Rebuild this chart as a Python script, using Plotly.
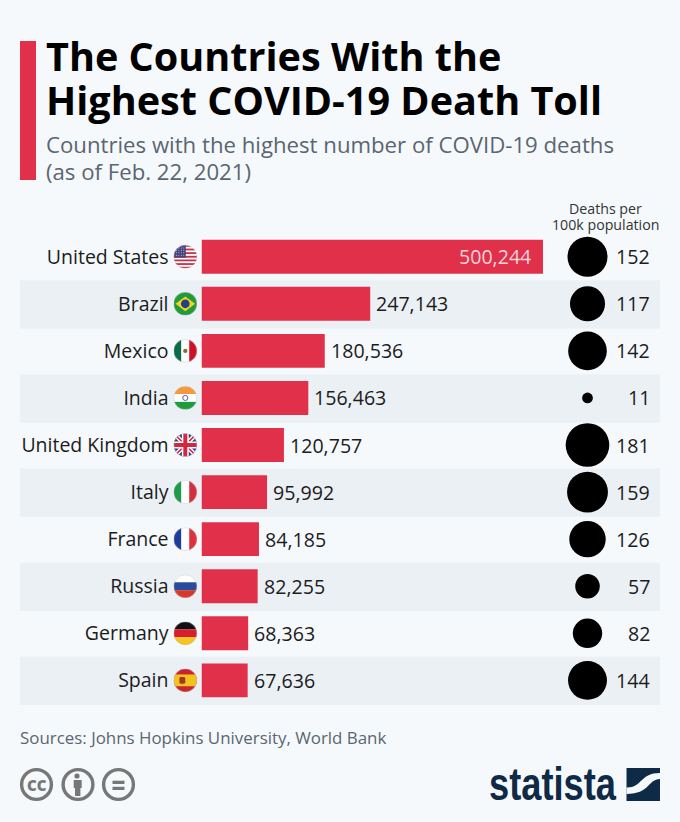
from urllib.parse import quote
import plotly.graph_objects as go

W = 680
H = 822

countries = ['United States', 'Brazil', 'Mexico', 'India', 'United Kingdom',
             'Italy', 'France', 'Russia', 'Germany', 'Spain']
deaths = [500244, 247143, 180536, 156463, 120757, 95992, 84185, 82255, 68363, 67636]
per_100k = [152, 117, 142, 11, 181, 159, 126, 57, 82, 144]
banded = ['Brazil', 'India', 'Italy', 'Russia', 'Spain']

RED = '#e1304a'
BG = '#f5f9fc'
BAND = '#ebf0f5'
INK = '#1c1c1c'
GREY = '#5b6670'
BADGE = '#777777'
NAVY = '#0f2a46'
FONT = 'Open Sans'

ROW_TOP = 233.2
ROW_H = 47.07

flags = {
    'United States': '<rect width="24" height="24" fill="#fff"/>'
        + ''.join(f'<rect y="{i*3.7:.1f}" width="24" height="1.85" fill="#c8314a"/>' for i in range(7))
        + '<rect width="12.5" height="13" fill="#46467f"/>'
        + ''.join(f'<circle cx="{x}" cy="{y}" r=".5" fill="#fff"/>' for x in (3, 5.5, 8, 10.5) for y in (3, 5.5, 8, 10.5)),
    'Brazil': '<rect width="24" height="24" fill="#1f9a3c"/><path d="M12 4.5L22 12L12 19.5L2 12Z" fill="#f4d21f"/>'
        '<circle cx="12" cy="12" r="4.4" fill="#22408c"/>',
    'Mexico': '<rect width="8" height="24" fill="#0b6a48"/><rect x="8" width="8" height="24" fill="#fff"/>'
        '<rect x="16" width="8" height="24" fill="#ce1126"/><circle cx="12" cy="12" r="2.2" fill="#8a6a3a"/>',
    'India': '<rect width="24" height="8" fill="#f6993c"/><rect y="8" width="24" height="8" fill="#fff"/>'
        '<rect y="16" width="24" height="8" fill="#1f9a3c"/><circle cx="12" cy="12" r="2.6" fill="none" stroke="#2a3a8c" stroke-width=".8"/>',
    'United Kingdom': '<rect width="24" height="24" fill="#2b3f86"/>'
        '<path d="M0 0L24 24M24 0L0 24" stroke="#fff" stroke-width="4.5"/>'
        '<path d="M0 0L24 24M24 0L0 24" stroke="#d3263f" stroke-width="1.6"/>'
        '<path d="M12 0V24M0 12H24" stroke="#fff" stroke-width="7"/>'
        '<path d="M12 0V24M0 12H24" stroke="#d3263f" stroke-width="4"/>',
    'Italy': '<rect width="8" height="24" fill="#1f9a4a"/><rect x="8" width="8" height="24" fill="#fff"/>'
        '<rect x="16" width="8" height="24" fill="#d32f3f"/>',
    'France': '<rect width="8" height="24" fill="#1d3c9c"/><rect x="8" width="8" height="24" fill="#fff"/>'
        '<rect x="16" width="8" height="24" fill="#e0303f"/>',
    'Russia': '<rect width="24" height="8" fill="#fff"/><rect y="8" width="24" height="8" fill="#2a4a9c"/>'
        '<rect y="16" width="24" height="8" fill="#d5392c"/>',
    'Germany': '<rect width="24" height="8" fill="#111"/><rect y="8" width="24" height="8" fill="#d81e2c"/>'
        '<rect y="16" width="24" height="8" fill="#f6c51e"/>',
    'Spain': '<rect width="24" height="24" fill="#c9252d"/><rect y="6" width="24" height="12" fill="#f4c21e"/>'
        '<rect x="6" y="8.5" width="6" height="7" rx="1.5" fill="#9b3a22"/>',
}


def px(x):
    return x / W


def py(y):
    return 1 - y / H


def flag_uri(body):
    svg = ('<svg xmlns="http://www.w3.org/2000/svg" width="96" height="96" viewBox="0 0 24 24">'
           '<clipPath id="c"><circle cx="12" cy="12" r="11.8"/></clipPath>'
           f'<g clip-path="url(#c)">{body}</g>'
           '<circle cx="12" cy="12" r="11.6" fill="none" stroke="#bbb" stroke-width=".4"/></svg>')
    return 'data:image/svg+xml,' + quote(svg)


def text(x, y, s, size, color=INK, anchor='left', weight=None, family=FONT):
    return dict(x=px(x), y=py(y), xref='paper', yref='paper', text=s, showarrow=False,
                xanchor=anchor, yanchor='middle', align=anchor,
                font=dict(size=size, color=color, family=family, weight=weight))


def box(x0, x1, y0, y1, color, kind='rect', **kw):
    return dict(type=kind, xref='paper', yref='paper', x0=px(x0), x1=px(x1), y0=py(y0), y1=py(y1),
                fillcolor=color, line_width=0, **kw)


fig = go.Figure()

fig.add_bar(y=countries, x=deaths, orientation='h', marker=dict(color=RED, line_width=0),
            width=0.72, xaxis='x', yaxis='y', showlegend=False)

# circle area follows deaths per 100k
fig.add_scatter(y=countries, x=['rate'] * len(countries), mode='markers', xaxis='x2', yaxis='y',
                marker=dict(color='#000', size=per_100k, sizemode='area', sizeref=0.19, line_width=0, opacity=1),
                showlegend=False)

shapes = []
for c in banded:
    i = countries.index(c)
    shapes.append(box(20, 660, ROW_TOP + ROW_H * i, ROW_TOP + ROW_H * (i + 1) + 1.2, BAND, layer='below'))

shapes.append(box(20, 36, 41, 180, RED))

# cc badges
for cx in (36.5, 78, 118.5):
    shapes.append(dict(type='circle', xref='paper', yref='paper', x0=px(cx - 14.9), x1=px(cx + 14.9),
                       y0=py(784.5 - 14.9), y1=py(784.5 + 14.9), line=dict(color=BADGE, width=3.4)))
shapes.append(box(74.4, 79.6, 773.4, 778.6, BADGE, kind='circle'))
shapes.append(box(73.7, 81.7, 780, 788, BADGE))
shapes.append(box(75, 80.4, 788, 796, BADGE))
shapes.append(box(112.5, 124.5, 780.7, 784, BADGE))
shapes.append(box(112.5, 124.5, 786.8, 790, BADGE))

# statista mark
shapes.append(box(626.5, 660, 768, 801, NAVY))
pts = dict(a=(626.5, 787.5), b=(642, 788), c=(640, 773), d=(660, 773), e=(660, 779), f=(648, 779), g=(650, 794), h=(626.5, 794))
p = {k: f'{px(v[0]):.5f} {py(v[1]):.5f}' for k, v in pts.items()}
path = f"M{p['a']} C{p['b']} {p['c']} {p['d']} L{p['e']} C{p['f']} {p['g']} {p['h']} Z"
shapes.append(dict(type='path', xref='paper', yref='paper', path=path, fillcolor=BG, line_width=0))

annotations = [
    text(43.5, 56, 'The Countries With the', 39.6, '#000', weight=700),
    text(43.5, 100, 'Highest COVID-19 Death Toll', 39.6, '#000', weight=700),
    text(43.5, 144.5, 'Countries with the highest number of COVID-19 deaths', 22.2, GREY),
    text(43.5, 171.5, '(as of Feb. 22, 2021)', 22.2, GREY),
    text(605.5, 209, 'Deaths per', 14.2, '#333', anchor='center'),
    text(605.5, 224, '100k population', 14.2, '#333', anchor='center'),
    text(18, 737, 'Sources: Johns Hopkins University, World Bank', 16.9, GREY),
    text(36.5, 784.5, 'CC', 15, BADGE, anchor='center', weight=800),
    text(487, 784, 'statista', 46, NAVY, weight=700, family='Liberation Sans'),
]

for c, v, r in zip(countries, deaths, per_100k):
    inside = c == 'United States'
    annotations.append(dict(x=v, y=c, xref='x', yref='y', text=f'{v:,}', showarrow=False,
                            xanchor='right' if inside else 'left', xshift=-10.5 if inside else 4,
                            font=dict(size=19.6, family=FONT, color='#f6d5da' if inside else INK)))
    annotations.append(dict(x=px(652), y=c, xref='paper', yref='y', text=str(r), showarrow=False, xanchor='right',
                            font=dict(size=19.6, family=FONT, color=INK)))

images = []
for i, c in enumerate(countries):
    images.append(dict(source=flag_uri(flags[c]), xref='paper', yref='paper', x=px(185.3),
                       y=py(ROW_TOP + ROW_H * (i + 0.5)), sizex=px(23.6), sizey=23.6 / H,
                       xanchor='center', yanchor='middle', sizing='contain', layer='above'))

fig.update_layout(
    width=W, height=H, margin=dict(l=0, r=0, t=0, b=0), autosize=False,
    paper_bgcolor=BG, plot_bgcolor='rgba(0,0,0,0)',
    shapes=shapes, annotations=annotations, images=images,
    xaxis=dict(domain=[px(201.5), px(543)], range=[0, 500244], visible=False, fixedrange=True),
    xaxis2=dict(domain=[px(560), px(615)], range=[-0.5, 0.5], type='category', visible=False, fixedrange=True, anchor='y'),
    yaxis=dict(domain=[py(ROW_TOP + ROW_H * 10), py(ROW_TOP)], type='category', categoryorder='array',
               categoryarray=countries, range=[9.5, -0.5], showgrid=False, zeroline=False, showline=False,
               ticks='', ticklabelstandoff=32, tickfont=dict(size=19.5, family=FONT, color=INK), fixedrange=True),
)

# no condensed bold font here, so squeeze the wordmark to its width
squeeze = """
document.body.style.margin='0';document.body.style.overflow='hidden';
var squeezeLogo = function() {
  document.querySelectorAll('text.annotation-text').forEach(function(t) {
    if (t.textContent === 'statista') {
      t.setAttribute('textLength', '127');
      t.setAttribute('lengthAdjust', 'spacingAndGlyphs');
      t.setAttribute('text-anchor', 'start');
    }
  });
};
squeezeLogo();
setTimeout(squeezeLogo, 30);
"""
fig.write_html('out.html', config=dict(displayModeBar=False), post_script=squeeze)
